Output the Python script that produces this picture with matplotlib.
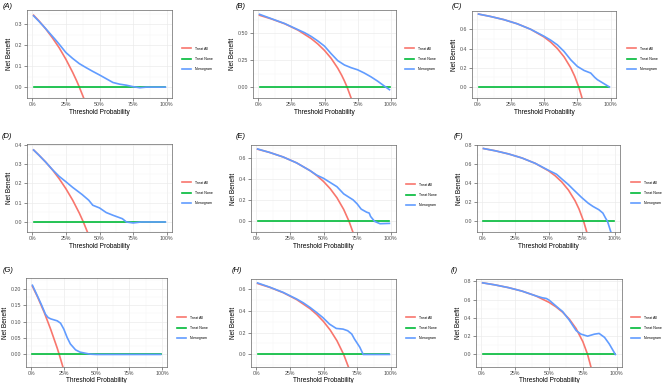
import matplotlib
matplotlib.use("Agg")
import matplotlib.pyplot as plt
from matplotlib.lines import Line2D
from matplotlib.ticker import MultipleLocator, FormatStrFormatter, PercentFormatter

plt.rcParams['font.family'] = ['Liberation Sans', 'DejaVu Sans']

# values: (threshold, net benefit)
treat_all_A = [(0.01, 0.343), (0.05, 0.316), (0.10, 0.278), (0.15, 0.235), (0.20, 0.188), (0.25, 0.133),
               (0.30, 0.071), (0.33, 0.030), (0.35, 0.000), (0.38, -0.048), (0.40, -0.083)]
nomogram_A = [(0.01, 0.340), (0.05, 0.314), (0.10, 0.279), (0.13, 0.257), (0.17, 0.228), (0.20, 0.205),
              (0.25, 0.165), (0.30, 0.137), (0.35, 0.112), (0.40, 0.093), (0.45, 0.075), (0.50, 0.058),
              (0.55, 0.040), (0.60, 0.022), (0.65, 0.014), (0.70, 0.009), (0.75, 0.002), (0.80, -0.003),
              (0.85, 0.000), (0.99, 0.000)]

treat_all_B = [(0.01, 0.667), (0.10, 0.633), (0.20, 0.588), (0.30, 0.529), (0.40, 0.450), (0.45, 0.400),
               (0.50, 0.340), (0.55, 0.267), (0.60, 0.175), (0.63, 0.108), (0.65, 0.057), (0.67, 0.000),
               (0.70, -0.100), (0.71, -0.138)]
nomogram_B = [(0.01, 0.676), (0.10, 0.635), (0.20, 0.590), (0.30, 0.533), (0.35, 0.505), (0.40, 0.470),
              (0.45, 0.428), (0.50, 0.380), (0.55, 0.310), (0.60, 0.245), (0.65, 0.205), (0.70, 0.180),
              (0.75, 0.160), (0.80, 0.130), (0.85, 0.095), (0.90, 0.055), (0.95, 0.010), (0.99, -0.025)]

treat_all_C = [(0.01, 0.758), (0.10, 0.733), (0.20, 0.700), (0.30, 0.657), (0.40, 0.600), (0.50, 0.520),
               (0.55, 0.467), (0.60, 0.400), (0.65, 0.314), (0.70, 0.200), (0.73, 0.111), (0.76, 0.000),
               (0.78, -0.091), (0.79, -0.143)]
nomogram_C = [(0.01, 0.758), (0.10, 0.733), (0.20, 0.700), (0.30, 0.657), (0.40, 0.600), (0.50, 0.528),
              (0.55, 0.487), (0.60, 0.438), (0.65, 0.370), (0.70, 0.283), (0.75, 0.214), (0.80, 0.172),
              (0.85, 0.145), (0.88, 0.100), (0.90, 0.076), (0.95, 0.034), (0.99, 0.000)]

treat_all_D = [(0.01, 0.374), (0.05, 0.347), (0.10, 0.311), (0.15, 0.271), (0.20, 0.225), (0.25, 0.173),
               (0.30, 0.114), (0.35, 0.046), (0.38, 0.000), (0.42, -0.069)]
nomogram_D = [(0.01, 0.374), (0.05, 0.347), (0.10, 0.311), (0.15, 0.272), (0.20, 0.237), (0.25, 0.209),
              (0.30, 0.180), (0.37, 0.143), (0.42, 0.113), (0.45, 0.087), (0.50, 0.073), (0.55, 0.049),
              (0.60, 0.035), (0.67, 0.017), (0.70, 0.000), (0.75, -0.005), (0.81, 0.000), (0.99, 0.000)]

treat_all_E = [(0.01, 0.687), (0.10, 0.656), (0.20, 0.613), (0.30, 0.557), (0.40, 0.483), (0.45, 0.436),
               (0.50, 0.380), (0.55, 0.311), (0.60, 0.225), (0.65, 0.114), (0.69, 0.000), (0.72, -0.107)]
nomogram_E = [(0.01, 0.689), (0.10, 0.656), (0.20, 0.613), (0.30, 0.557), (0.40, 0.483), (0.45, 0.440),
              (0.50, 0.410), (0.55, 0.370), (0.60, 0.330), (0.65, 0.262), (0.70, 0.221), (0.72, 0.205),
              (0.75, 0.167), (0.78, 0.117), (0.82, 0.088), (0.84, 0.079), (0.85, 0.047), (0.88, 0.000),
              (0.92, -0.022), (0.99, -0.019)]

treat_all_F = [(0.01, 0.763), (0.10, 0.739), (0.20, 0.706), (0.30, 0.664), (0.40, 0.608), (0.50, 0.530),
               (0.55, 0.478), (0.60, 0.413), (0.65, 0.329), (0.70, 0.217), (0.73, 0.130), (0.765, 0.000),
               (0.79, -0.119)]
nomogram_F = [(0.01, 0.763), (0.10, 0.739), (0.20, 0.706), (0.30, 0.664), (0.40, 0.608), (0.50, 0.535),
              (0.56, 0.494), (0.60, 0.445), (0.65, 0.385), (0.69, 0.330), (0.75, 0.250), (0.80, 0.190),
              (0.835, 0.157), (0.88, 0.122), (0.91, 0.087), (0.93, 0.035), (0.945, 0.000), (0.97, -0.111)]

treat_all_G = [(0.01, 0.207), (0.05, 0.174), (0.10, 0.128), (0.15, 0.076), (0.20, 0.019), (0.215, 0.000),
               (0.25, -0.047)]
nomogram_G = [(0.01, 0.210), (0.05, 0.176), (0.08, 0.150), (0.11, 0.122), (0.13, 0.112), (0.15, 0.108),
              (0.20, 0.102), (0.225, 0.095), (0.25, 0.077), (0.275, 0.052), (0.30, 0.032), (0.34, 0.014),
              (0.375, 0.007), (0.45, 0.001), (0.50, 0.000), (0.99, 0.000)]

treat_all_H = [(0.01, 0.646), (0.10, 0.611), (0.20, 0.563), (0.30, 0.500), (0.40, 0.417), (0.45, 0.364),
               (0.50, 0.300), (0.55, 0.222), (0.60, 0.125), (0.65, 0.000), (0.69, -0.129)]
nomogram_H = [(0.01, 0.651), (0.10, 0.613), (0.20, 0.565), (0.30, 0.505), (0.35, 0.470), (0.40, 0.428),
              (0.45, 0.381), (0.495, 0.336), (0.545, 0.276), (0.595, 0.237), (0.645, 0.231), (0.68, 0.216),
              (0.71, 0.186), (0.73, 0.141), (0.77, 0.066), (0.795, 0.000), (0.99, 0.000)]

treat_all_I = [(0.01, 0.783), (0.10, 0.761), (0.20, 0.731), (0.30, 0.693), (0.40, 0.642), (0.50, 0.570),
               (0.55, 0.522), (0.60, 0.463), (0.65, 0.386), (0.70, 0.283), (0.75, 0.140), (0.785, 0.000),
               (0.82, -0.194)]
nomogram_I = [(0.01, 0.783), (0.10, 0.761), (0.20, 0.731), (0.30, 0.693), (0.40, 0.642), (0.45, 0.620),
              (0.48, 0.612), (0.50, 0.595), (0.575, 0.500), (0.60, 0.470), (0.65, 0.375), (0.70, 0.262),
              (0.735, 0.223), (0.785, 0.200), (0.835, 0.222), (0.87, 0.230), (0.91, 0.187), (0.945, 0.115),
              (0.99, 0.000)]

panel_labels = ["(A)", "(B)", "(C)", "(D)", "(E)", "(F)", "(G)", "(H)", "(I)"]
series_names = ["Treat All", "Treat None", "Nomogram"]
treat_all = [treat_all_A, treat_all_B, treat_all_C, treat_all_D, treat_all_E, treat_all_F,
             treat_all_G, treat_all_H, treat_all_I]
nomograms = [nomogram_A, nomogram_B, nomogram_C, nomogram_D, nomogram_E, nomogram_F,
             nomogram_G, nomogram_H, nomogram_I]
none_range = [0.01, 0.99]

# layout in pixels (left, top, right, bottom), y limits, y step, y label format
W, H = 669, 383
boxes = [(27, 10, 172, 98), (253, 10, 396, 98), (472, 11, 616, 98),
         (27, 144, 172, 232), (251, 145, 396, 232), (477, 145, 620, 232),
         (26, 278, 167, 367), (251, 279, 396, 367), (476, 279, 622, 367)]
ylims = [(-0.052, 0.368), (-0.102, 0.716), (-0.114, 0.79),
         (-0.052, 0.405), (-0.101, 0.727), (-0.111, 0.80),
         (-0.038, 0.232), (-0.114, 0.687), (-0.137, 0.825)]
ysteps = [0.1, 0.25, 0.2, 0.1, 0.2, 0.2, 0.05, 0.2, 0.2]
yfmts = ["%.1f", "%.2f", "%.1f", "%.1f", "%.1f", "%.1f", "%.2f", "%.1f", "%.1f"]
label_pos = [(3, 6), (236, 6), (452, 6), (2, 137), (236, 137), (454, 137), (3, 270), (232, 270), (451, 270)]
legend_pos = [(182, 59), (405, 59), (627, 59), (182, 193), (406, 195), (631, 193),
              (177, 328), (406, 328), (631, 328)]

colors = ["#F8766D", "#00BA38", "#619CFF"]

fig = plt.figure(figsize=(W / 100, H / 100), dpi=100)

for i in range(9):
    l, t, r, b = boxes[i]
    ax = fig.add_axes([l / W, 1 - b / H, (r - l) / W, (b - t) / H])
    ax.set_facecolor("white")

    xa = [p[0] for p in treat_all[i]]
    ya = [p[1] for p in treat_all[i]]
    xn = [p[0] for p in nomograms[i]]
    yn = [p[1] for p in nomograms[i]]
    ax.plot(xa, ya, color=colors[0], lw=1.2, zorder=3)
    ax.plot(none_range, [0, 0], color=colors[1], lw=1.2, zorder=3)
    ax.plot(xn, yn, color=colors[2], lw=1.2, zorder=4)

    ax.set_xlim(-0.039, 1.039)
    ax.set_ylim(*ylims[i])
    ax.xaxis.set_major_locator(MultipleLocator(0.25))
    ax.xaxis.set_minor_locator(MultipleLocator(0.125))
    ax.xaxis.set_major_formatter(PercentFormatter(1.0, decimals=0))
    ax.yaxis.set_major_locator(MultipleLocator(ysteps[i]))
    ax.yaxis.set_minor_locator(MultipleLocator(ysteps[i] / 2))
    ax.yaxis.set_major_formatter(FormatStrFormatter(yfmts[i]))

    ax.grid(which="major", color="#EBEBEB", lw=0.5)
    ax.grid(which="minor", color="#F4F4F4", lw=0.3)
    ax.set_axisbelow(True)
    for s in ax.spines.values():
        s.set_color("#666666")
        s.set_linewidth(0.5)
    ax.tick_params(which="major", length=2, width=0.4, color="#333333", labelsize=3.8,
                   labelcolor="#4D4D4D", pad=1.2)
    ax.tick_params(which="minor", length=0)

    ax.set_xlabel("Threshold Probability", fontsize=4.7, labelpad=0.8 if i < 6 else 0.2)
    ax.set_ylabel("Net Benefit", fontsize=4.7, labelpad=1.5)

    fig.text(label_pos[i][0] / W, 1 - label_pos[i][1] / H, panel_labels[i],
             style="italic", fontsize=5.4, va="center", ha="left")

    handles = [Line2D([], [], color=c, lw=1.2) for c in colors]
    fig.legend(handles, series_names, loc="center left",
               bbox_to_anchor=(legend_pos[i][0] / W, 1 - legend_pos[i][1] / H),
               frameon=False, fontsize=2.6, handlelength=2.6, handletextpad=0.9,
               labelspacing=1.75, borderpad=0, borderaxespad=0)

fig.savefig("out.png", dpi=100, facecolor="white")
